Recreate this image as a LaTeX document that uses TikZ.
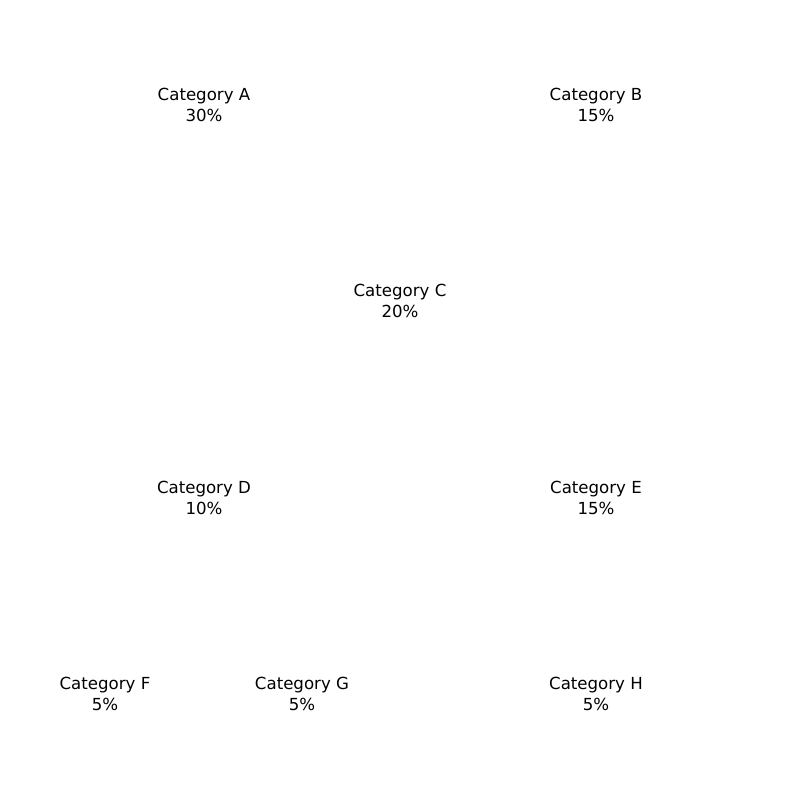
\documentclass[tikz,border=0pt]{standalone}
\usepackage{fontspec}
\setmainfont{DejaVu Sans}
\usepackage{tikz}
\usetikzlibrary{positioning}

\begin{document}
\begin{tikzpicture}[x=0.01in, y=-0.01in, every node/.style={align=center, inner sep=0pt, font=\fontsize{12}{15.1}\selectfont}]

\useasboundingbox (0,0) rectangle (800,800);

% Category labels (share of total)
\node (catA) at (204, 105) {Category A\\30\%};
\node (catB) at (596, 105) {Category B\\15\%};
\node (catC) at (400, 301) {Category C\\20\%};
\node (catD) at (204, 498) {Category D\\10\%};
\node (catE) at (596, 498) {Category E\\15\%};
\node (catF) at (105, 694) {Category F\\5\%};
\node (catG) at (302, 694) {Category G\\5\%};
\node (catH) at (596, 694) {Category H\\5\%};
\end{tikzpicture}
\end{document}
